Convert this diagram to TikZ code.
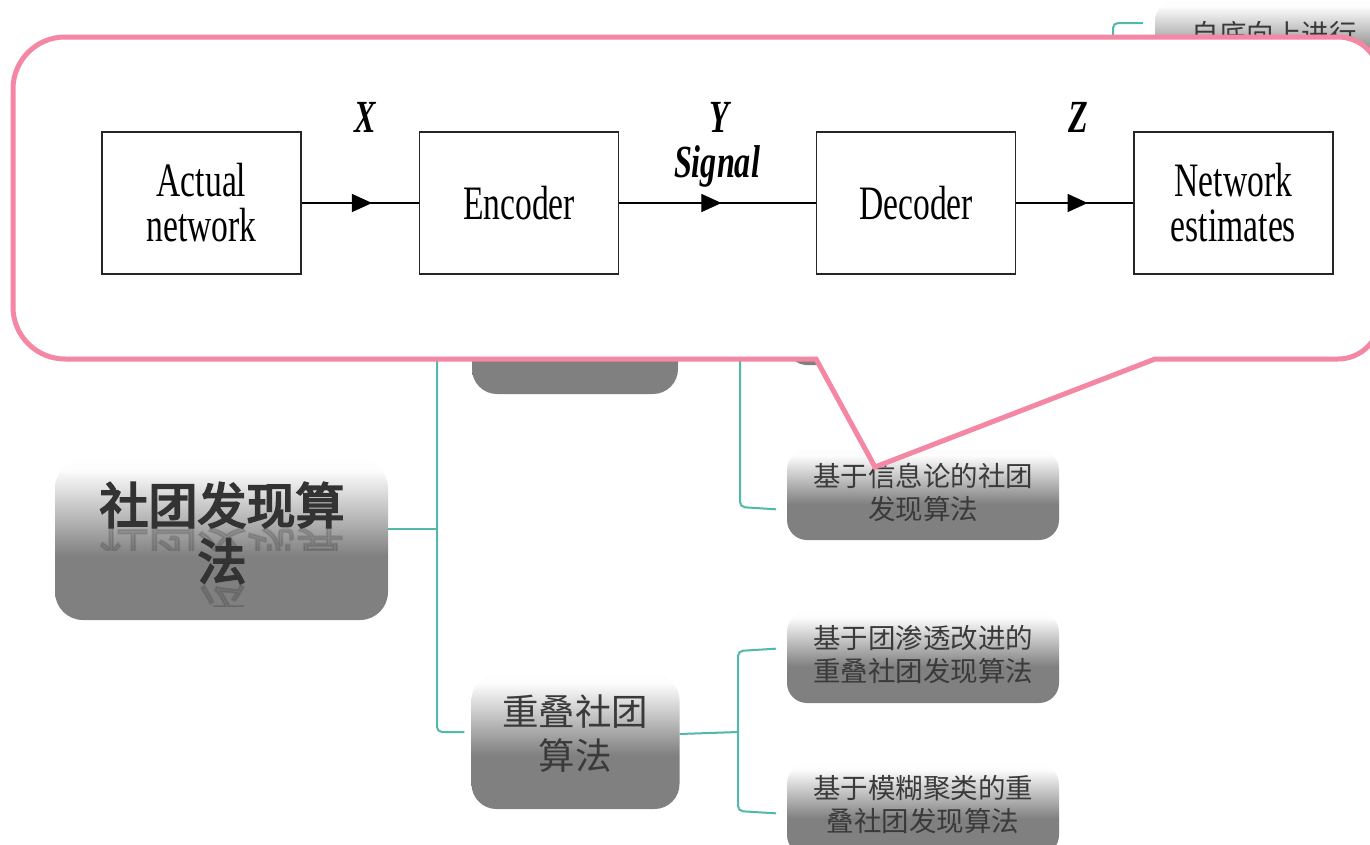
\documentclass[tikz,border=0pt]{standalone}
\usepackage{fontspec}
\usepackage{graphicx}
\usetikzlibrary{decorations.markings,arrows.meta}
\newfontfamily\cjk{Noto Sans CJK SC}
\newfontfamily\cjktitle[FakeBold=4]{Noto Sans CJK SC}
\newfontfamily\narrowserif[FakeStretch=0.70]{Liberation Serif}
\definecolor{pinkc}{RGB}{244,135,163}
\definecolor{tealc}{RGB}{82,184,170}
\definecolor{boxgray}{RGB}{128,128,128}
\definecolor{txtgray}{RGB}{58,58,58}
\definecolor{topwhite}{RGB}{253,253,253}
\pgfdeclareverticalshading{boxshade}{100bp}{color(0bp)=(boxgray); color(45bp)=(boxgray); color(72bp)=(topwhite); color(100bp)=(topwhite)}
\tikzset{
  gbox/.style={shading=boxshade, rounded corners=20pt, inner sep=0pt},
  conn/.style={draw=tealc, line width=2pt},
  blk/.style={draw=black!85, line width=1.1pt, fill=white, inner sep=0pt,
    minimum width=199pt, minimum height=142pt, align=center,
    font=\narrowserif\fontsize{48}{45}\selectfont},
  lbl/.style={font=\narrowserif\bfseries\itshape\fontsize{46}{46}\selectfont, inner sep=0pt},
  sig/.style={draw=black, line width=1.1pt, postaction={decorate},
    decoration={markings, mark=at position #1 with {\arrow{Triangle[length=20pt,width=18pt]}}}},
  sig/.default=0.6,
  ctext/.style={font=\cjk\fontsize{27.5}{33}\selectfont, text=txtgray, align=center, inner sep=0pt},
  ttext/.style={font=\cjktitle\fontsize{49}{56}\selectfont, text=black!80, align=center, inner sep=0pt},
  callout/.style={draw=pinkc, line width=5pt, fill=white, line join=miter},
}
\begin{document}
\begin{tikzpicture}[x=1pt,y=-1pt]
\useasboundingbox (0,0) rectangle (1370,844);
\clip (0,0) rectangle (1370,844);
\fill[white] (0,0) rectangle (1370,844);

% gray boxes of the mind map
\node[gbox, minimum width=333pt, minimum height=160pt, rounded corners=28pt] (title) at (221.5,540) {};
\node[gbox, minimum width=206pt, minimum height=129pt, rounded corners=25pt] (hidA) at (575,329.5) {};
\node[gbox, minimum width=208pt, minimum height=134pt, rounded corners=25pt] (overlap) at (575.5,742) {};
\node[gbox, minimum width=272pt, minimum height=88pt] (hidB) at (923,321) {};
\node[gbox, minimum width=272pt, minimum height=90pt] (info) at (923,495) {};
\node[gbox, minimum width=272pt, minimum height=91pt] (clique) at (923,657.5) {};
\node[gbox, minimum width=272pt, minimum height=91pt] (fuzzy) at (923,809.5) {};
\node[gbox, minimum width=272pt, minimum height=91pt] (tr) at (1291,46.5) {};

% texts
\node[ttext] (titletext) at (222,533) {社团发现算\\法};
\begin{scope}
  \clip (60,527) rectangle (385,550);
  \node[ttext, anchor=base, text opacity=0.18] (refl1) at (222,532) {\scalebox{1}[-1]{社团发现算}};
\end{scope}
\begin{scope}
  \clip (60,584) rectangle (385,606);
  \node[ttext, anchor=base, text opacity=0.18] (refl2) at (222,589) {\scalebox{1}[-1]{法}};
\end{scope}
\node[font=\cjk\fontsize{36.5}{44}\selectfont, text=txtgray, align=center, inner sep=0pt] (overlaptext) at (575,734) {重叠社团\\算法};
\node[ctext] (infotext) at (923,492.5) {基于信息论的社团\\发现算法};
\node[ctext] (cliquetext) at (923,655) {基于团渗透改进的\\重叠社团发现算法};
\node[ctext] (fuzzytext) at (923,804.5) {基于模糊聚类的重\\叠社团发现算法};
\node[ctext] (trtext) at (1274,34) {自底向上进行};

% connectors of the mind map
\coordinate (j1) at (437,529);
\coordinate (y732) at (0,732);
\coordinate (y733) at (0,734);
\coordinate (y649) at (0,648);
\coordinate (y814) at (0,814);
\coordinate (y510) at (0,510);
\coordinate (y23) at (0,23);
\coordinate (trs) at (1113,80);
\draw[conn] (title.east |- j1) -- (j1);
\draw[conn, rounded corners=5pt, shorten >=7pt] (hidA.west) -- (437,329.5) -- (437,732) -- (overlap.west |- y732);
\draw[conn] (overlap.east |- y733) -- (738,732);
\draw[conn, rounded corners=5pt, shorten <=11pt, shorten >=11pt] (clique.west |- y649) -- (738,651) -- (738,811) -- (fuzzy.west |- y814);
\draw[conn] (hidA.east) -- (740,329.5);
\draw[conn, rounded corners=5pt, shorten >=11pt] (hidB.west) -- (740,321) -- (740,507) -- (info.west |- y510);
\draw[conn, rounded corners=5pt, shorten >=12pt] (trs) -- (1113,23) -- (tr.west |- y23);

% callout
\path[callout] (65,37) -- (1338,37)
  .. controls (1361.2,37) and (1380,55.8) .. (1380,79)
  -- (1380,317)
  .. controls (1380,340.2) and (1361.2,359) .. (1338,359)
  -- (1155,359) -- (875,467) -- (816,359) -- (65,359)
  .. controls (36.3,359) and (13,335.7) .. (13,307)
  -- (13,89)
  .. controls (13,60.3) and (36.3,37) .. (65,37) -- cycle;

% block diagram
\node[blk] (an) at (201.5,203) {Actual\\network};
\node[blk] (enc) at (519,203) {Encoder};
\node[blk] (dec) at (916,203) {Decoder};
\node[blk] (est) at (1233.5,203) {Network\\estimates};
\draw[sig=0.6] (an) -- (enc);
\draw[sig=0.52] (enc) -- (dec);
\draw[sig=0.61] (dec) -- (est);
\node[lbl] (lx) at (365,117) {X};
\node[lbl] (ly) at (719,117) {Y};
\node[lbl] (lsig) at (717,166) {Signal};
\node[lbl] (lz) at (1078,117) {Z};
\end{tikzpicture}
\end{document}
